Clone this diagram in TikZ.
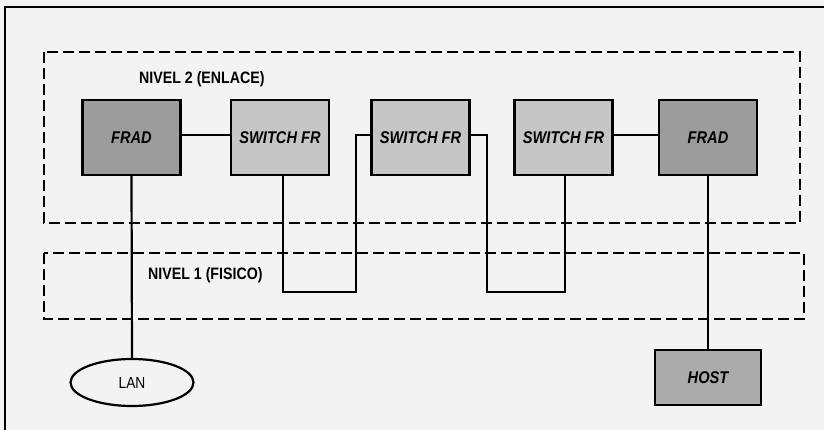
\documentclass[tikz,border=0pt]{standalone}
\usepackage{fontspec}
\setmainfont{Liberation Sans}
\usetikzlibrary{shapes.geometric}
\definecolor{bgc}{HTML}{F3F3F3}
\definecolor{fradc}{HTML}{9C9C9C}
\definecolor{swc}{HTML}{C6C6C6}
\definecolor{hostc}{HTML}{ABABAB}
\newcommand{\narrowtext}[1]{\scalebox{0.86}[1]{#1}}
\tikzset{
  dev/.style={draw=black, line width=2.2pt, minimum width=98pt, minimum height=75pt, inner sep=0pt,
    font=\fontsize{17}{19}\selectfont\bfseries\itshape},
  frad/.style={dev, fill=fradc},
  sw/.style={dev, fill=swc},
  lvl/.style={draw=black, line width=2pt, dash pattern=on 11pt off 5pt},
  wire/.style={draw=black, line width=2.2pt},
  lbl/.style={font=\fontsize{16.5}{19}\selectfont\bfseries, inner sep=0pt, anchor=west}
}
\begin{document}
\begin{tikzpicture}[x=1pt,y=-1pt]
\useasboundingbox (0,0) rectangle (824,430);
\fill[bgc] (0,0) rectangle (824,430);
% outer frame lines
\draw[line width=2pt] (5,430) -- (5,7) -- (824,7);
% level boxes
\draw[lvl] (44,52) rectangle (800,223);
\draw[lvl] (44,253) rectangle (804,319);
\node[lbl] (n2) at (139,79) {\narrowtext{NIVEL 2 (ENLACE)}};
\node[lbl] (n1) at (148,275) {\narrowtext{NIVEL 1 (FISICO)}};
% devices
\node[frad] (frad1) at (131.5,137.5) {\narrowtext{FRAD}};
\node[sw] (sw1) at (280,137.5) {\narrowtext{SWITCH FR}};
\node[sw] (sw2) at (420.5,137.5) {\narrowtext{SWITCH FR}};
\node[sw] (sw3) at (563.5,137.5) {\narrowtext{SWITCH FR}};
\node[frad] (frad2) at (708,137.5) {\narrowtext{FRAD}};
\node[dev, fill=hostc, minimum width=106pt, minimum height=55pt] (host) at (708,377.5) {\narrowtext{HOST}};
\node[ellipse, draw=black, line width=2.2pt, fill=bgc, minimum width=123pt, minimum height=47pt,
  inner sep=0pt, font=\fontsize{16}{18}\selectfont] (lan) at (132,382.5) {\narrowtext{LAN}};
% coordinates for wire corners
\coordinate (a1) at (356,135);
\coordinate (a2) at (356,292);
\coordinate (a3) at (283,292);
\coordinate (b1) at (487,135);
\coordinate (b2) at (487,292);
\coordinate (b3) at (565,292);
% wires
\draw[wire] (frad1.east |- 0,135) -- (sw1.west |- 0,135);
\draw[wire] (sw2.west |- a1) -- (a1) -- (a2) -- (a3) -- (a3 |- sw1.south);
\draw[wire] (sw2.east |- b1) -- (b1) -- (b2) -- (b3) -- (b3 |- sw3.south);
\draw[wire] (sw3.east |- 0,135) -- (frad2.west |- 0,135);
\draw[wire] (frad2.south) -- (host.north);
\draw[wire] (frad1.south) -- (lan.north);
\end{tikzpicture}
\end{document}
